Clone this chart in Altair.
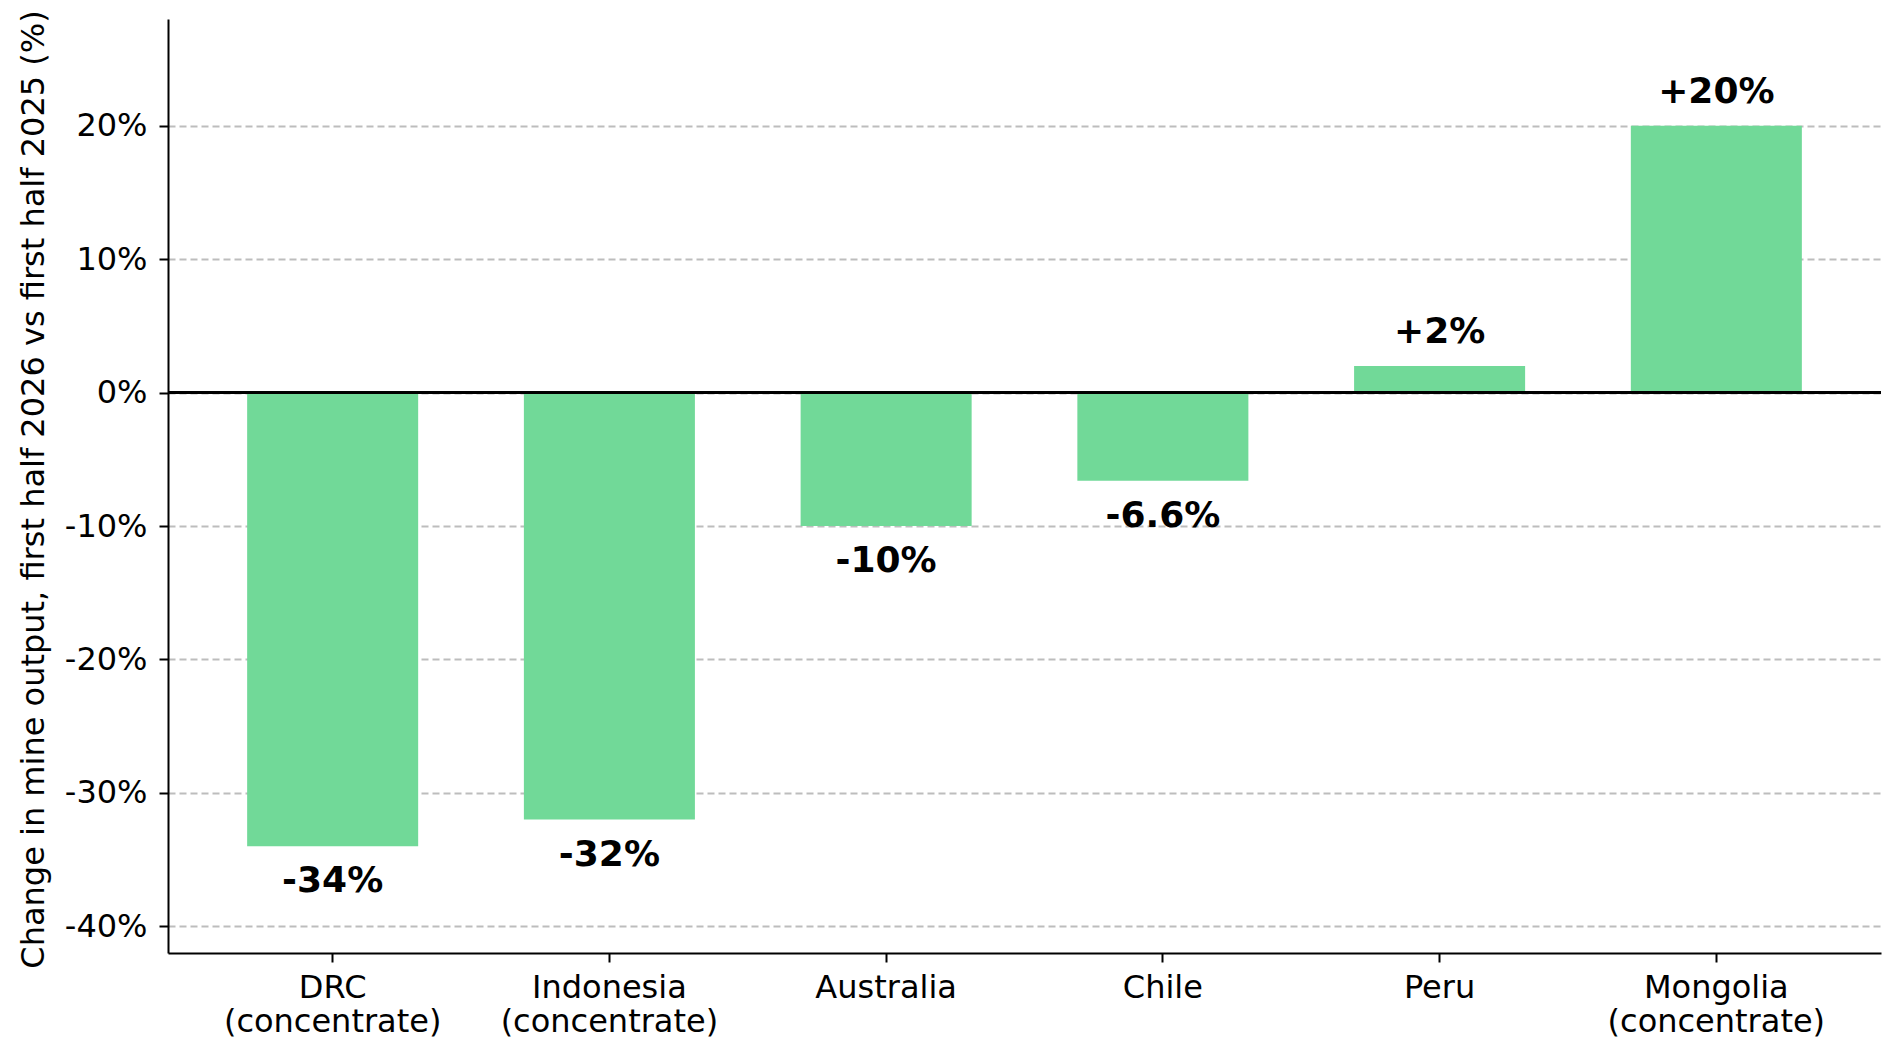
import altair as alt
import pandas as pd

countries = ["DRC\n(concentrate)", "Indonesia\n(concentrate)", "Australia", "Chile", "Peru", "Mongolia\n(concentrate)"]
changes = [-34, -32, -10, -6.6, 2, 20]
labels = ["-34%", "-32%", "-10%", "-6.6%", "+2%", "+20%"]
y_ticks = [-40, -30, -20, -10, 0, 10, 20]
y_title = "Change in mine output, first half 2026 vs first half 2025 (%)"

df = pd.DataFrame({"country": countries, "change": changes, "label": labels})

FONT = "DejaVu Sans"
GREEN = "#71D998"

x_enc = alt.X(
    "country:N",
    sort=countries,
    scale=alt.Scale(paddingInner=0.382, paddingOuter=0.286),
    axis=alt.Axis(
        title=None,
        labelAngle=0,
        labelExpr="split(datum.label, '\\n')",
        labelLineHeight=34,
        labelLimit=500,
        labelFont=FONT,
        labelFontSize=32,
        labelColor="black",
        labelPadding=10,
        tickSize=9,
        tickWidth=2,
        tickColor="black",
        domainColor="black",
        domainWidth=2,
        grid=False,
    ),
)

y_enc = alt.Y(
    "change:Q",
    scale=alt.Scale(domain=[-42, 28], nice=False, zero=False),
    axis=alt.Axis(
        values=y_ticks,
        labelExpr="datum.value + '%'",
        labelFont=FONT,
        labelFontSize=32,
        labelColor="black",
        labelPadding=12,
        tickSize=9,
        tickWidth=2,
        tickColor="black",
        domainColor="black",
        domainWidth=2,
        grid=True,
        gridDash=[7, 4],
        gridColor="#bdbdbd",
        gridWidth=1.8,
        title=y_title,
        titleFont=FONT,
        titleFontSize=32,
        titleFontWeight="normal",
        titleColor="black",
        titleAngle=-90,
        titleBaseline="alphabetic",
        titleAlign="center",
        titleX=-125,
        titleY=470,
    ),
)

base = alt.Chart(df)

bars = base.mark_bar(color=GREEN).encode(x=x_enc, y=y_enc, y2=alt.datum(0))

zero_line = base.mark_rule(color="black", strokeWidth=2.8).encode(y=alt.datum(0))

pos_labels = base.transform_filter("datum.change >= 0").mark_text(
    font=FONT, fontSize=36, fontWeight="bold", color="black",
    baseline="alphabetic", dy=-23,
).encode(x=alt.X("country:N", sort=countries), y="change:Q", text="label:N")

neg_labels = base.transform_filter("datum.change < 0").mark_text(
    font=FONT, fontSize=36, fontWeight="bold", color="black",
    baseline="top", dy=18,
).encode(x=alt.X("country:N", sort=countries), y="change:Q", text="label:N")

chart = alt.layer(bars, zero_line, pos_labels, neg_labels).properties(
    width=1713,
    height=934,
    padding={"left": 160, "top": 11, "right": 11, "bottom": 98},
    autosize=alt.AutoSizeParams(type="none"),
    background="white",
).configure_view(stroke=None)

chart.save("out.html", embed_options={"renderer": "svg", "actions": False})
